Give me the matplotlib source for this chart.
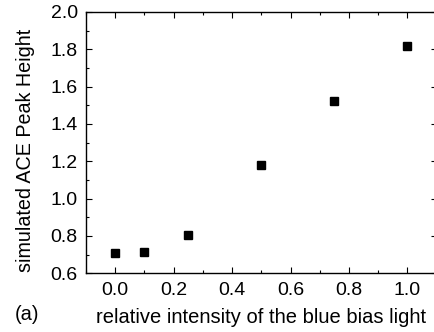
import matplotlib
matplotlib.use("Agg")
import matplotlib.pyplot as plt
from matplotlib.ticker import MultipleLocator

# data
intensity = [0.0, 0.1, 0.25, 0.5, 0.75, 1.0]
peak_height = [0.707, 0.716, 0.805, 1.178, 1.525, 1.816]

plt.rcParams["font.family"] = ["Liberation Sans", "DejaVu Sans"]

fig = plt.figure(figsize=(4.34, 3.32), dpi=100)
ax = fig.add_axes([86 / 434, 1 - 273.3 / 332, (436.7 - 86) / 434, (273.3 - 12) / 332])

ax.plot(intensity, peak_height, linestyle="none", marker="s",
        markersize=5.4, color="black")

ax.set_xlim(-0.1, 1.1)
ax.set_ylim(0.6, 2.0)
ax.xaxis.set_major_locator(MultipleLocator(0.2))
ax.xaxis.set_minor_locator(MultipleLocator(0.1))
ax.yaxis.set_major_locator(MultipleLocator(0.2))
ax.yaxis.set_minor_locator(MultipleLocator(0.1))
ax.xaxis.set_major_formatter(plt.FormatStrFormatter("%.1f"))
ax.yaxis.set_major_formatter(plt.FormatStrFormatter("%.1f"))

ax.tick_params(which="both", direction="in", top=True, right=True,
               labelsize=14, width=0.8, colors="black")
ax.tick_params(which="major", length=4, pad=6)
ax.tick_params(which="minor", length=2)
for s in ax.spines.values():
    s.set_linewidth(1.0)

ax.set_xlabel("relative intensity of the blue bias light", fontsize=14.5, labelpad=7)
ax.set_ylabel("simulated ACE Peak Height", fontsize=14.2)
ax.yaxis.set_label_coords(-0.145, 0.472)
fig.text(15 / 434, 1 - 320 / 332, "(a)", fontsize=14.5)

fig.savefig("out.png", dpi=100)
